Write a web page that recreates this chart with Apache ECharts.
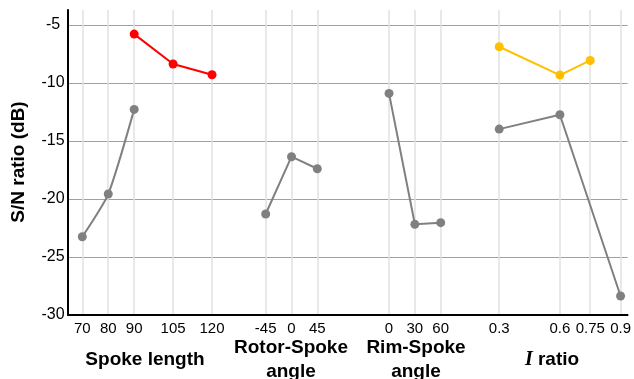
<!DOCTYPE html>
<html>
<head>
<meta charset="utf-8">
<script src="https://cdn.jsdelivr.net/npm/echarts@6/dist/echarts.min.js"></script>
<style>html,body{margin:0;padding:0;background:#fff}#c{width:634px;height:379px}</style>
</head>
<body>
<div id="c"></div>
<script>
// Data
const spokeLength = [70, 80, 90, 105, 120];
const spokeRed = [null, null, -5.78, -8.36, -9.28];
const spokeGray = [-23.25, -19.57, -12.27];
const rotorAngle = [-45, 0, 45];
const rotorGray = [-21.29, -16.35, -17.39];
const rimAngle = [0, 30, 60];
const rimGray = [-10.89, -22.18, -22.04];
const iRatio = [0.3, 0.6, 0.75, 0.9];
const iYellow = [-6.87, -9.31, -8.05];
const iGray = [-13.97, -12.73, null, -28.36];
const yTicks = [-30, -25, -20, -15, -10, -5];

function pairs(xs, ys) {
  const out = [];
  for (let i = 0; i < ys.length; i++) if (ys[i] !== null && ys[i] !== undefined) out.push([xs[i], ys[i]]);
  return out;
}

const FONT = "'Liberation Sans', Arial, sans-serif";
const grids = [
  {left: 68, width: 171, min: 64.49, max: 130.4, ticks: spokeLength},
  {left: 239, width: 114, min: -91.6, max: 107.3, ticks: rotorAngle},
  {left: 353, width: 117, min: -41.8, max: 94, ticks: rimAngle},
  {left: 470, width: 158, min: 0.1555, max: 0.9345, ticks: iRatio}
];

const option = {
  animation: false,
  backgroundColor: '#fff',
  grid: grids.map(g => ({left: g.left, width: g.width, top: 10, height: 305})),
  xAxis: grids.map((g, i) => ({
    type: 'value', gridIndex: i, min: g.min, max: g.max,
    axisLine: {show: true, onZero: false, lineStyle: {color: '#000', width: 2}},
    axisTick: {show: false, customValues: g.ticks},
    axisLabel: {customValues: g.ticks, color: '#000', fontSize: 15, fontFamily: FONT, margin: 6,
      formatter: v => String(v)},
    splitLine: {show: true, lineStyle: {color: '#e0e0e0', width: 1.5}}
  })),
  yAxis: grids.map((g, i) => ({
    type: 'value', gridIndex: i, min: -30, max: -3.7, interval: 5,
    axisLine: {show: i === 0, lineStyle: {color: '#000', width: 2}},
    axisTick: {show: false},
    axisLabel: {show: i === 0, showMaxLabel: false, color: '#000', fontSize: 16, fontFamily: FONT,
      align: 'center', margin: 15},
    splitLine: {show: true, showMaxLine: false, lineStyle: {color: '#a0a0a0', width: 1}}
  })),
  series: [
    {data: pairs(spokeLength, spokeRed), color: '#ff0000', x: 0},
    {data: pairs(spokeLength, spokeGray), color: '#808080', x: 0, smooth: 0.2},
    {data: pairs(rotorAngle, rotorGray), color: '#808080', x: 1},
    {data: pairs(rimAngle, rimGray), color: '#808080', x: 2},
    {data: pairs(iRatio, iYellow), color: '#ffc000', x: 3},
    {data: pairs(iRatio, iGray), color: '#808080', x: 3}
  ].map(s => ({
    type: 'line', xAxisIndex: s.x, yAxisIndex: s.x, data: s.data, smooth: s.smooth || false,
    symbol: 'circle', symbolSize: 9, itemStyle: {color: s.color},
    lineStyle: {color: s.color, width: 2}
  })),
  graphic: [
    {type: 'text', x: 19, y: 162, rotation: Math.PI / 2,
      style: {text: 'S/N ratio (dB)', font: 'bold 19px ' + FONT, fill: '#000', align: 'center', verticalAlign: 'middle'}},
    {type: 'text', x: 145, y: 360,
      style: {text: 'Spoke length', font: 'bold 19px ' + FONT, fill: '#000', align: 'center', verticalAlign: 'middle'}},
    {type: 'text', x: 291, y: 360,
      style: {text: 'Rotor-Spoke\nangle', font: 'bold 19px ' + FONT, lineHeight: 24, fill: '#000', align: 'center', verticalAlign: 'middle'}},
    {type: 'text', x: 416, y: 360,
      style: {text: 'Rim-Spoke\nangle', font: 'bold 19px ' + FONT, lineHeight: 24, fill: '#000', align: 'center', verticalAlign: 'middle'}},
    {type: 'text', x: 552, y: 360,
      style: {text: '{i|I} ratio', font: 'bold 19px ' + FONT, fill: '#000', align: 'center', verticalAlign: 'middle',
        rich: {i: {fontFamily: "'Liberation Serif', 'Times New Roman', serif", fontStyle: 'italic', fontWeight: 'bold', fontSize: 20, fill: '#000'}}}}
  ]
};
const chart = echarts.init(document.getElementById('c'), null, {renderer: 'canvas'});
chart.setOption(option);
</script>
</body>
</html>
